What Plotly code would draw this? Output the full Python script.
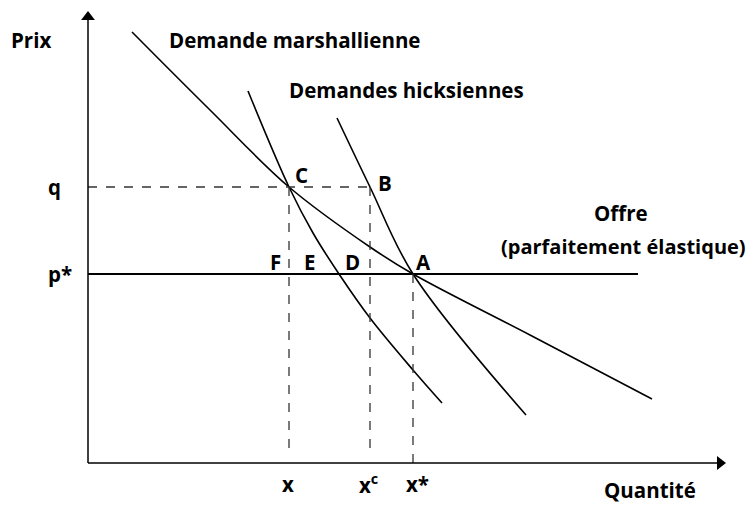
import plotly.graph_objects as go

# Data (quantity, price) in chart units
marsh_q = [44, 122, 201, 282, 325, 442, 564]
marsh_p = [431, 353, 276, 216, 189, 128, 64]
hicks1_q = [160, 201, 225, 251, 282, 325, 354]
hicks1_p = [372, 276, 230, 189, 145, 93, 60]
hicks2_q = [249, 282, 325, 438]
hicks2_p = [345, 276, 189, 48]

p_star = 189
q_price = 276
x_m = 201
x_c = 282
x_star = 325
supply_end = 550
x_axis_end = 632
y_axis_end = 446

FONT = "Open Sans"
BLK = "#000000"
DASH = "#333333"

fig = go.Figure()

def line(xs, ys, dash=None, width=1.6, color=BLK):
    fig.add_trace(go.Scatter(x=xs, y=ys, mode="lines",
                             line=dict(color=color, width=width, dash=dash),
                             hoverinfo="skip", showlegend=False))

# demand curves
for qs, ps in [(marsh_q, marsh_p), (hicks1_q, hicks1_p), (hicks2_q, hicks2_p)]:
    fig.add_trace(go.Scatter(x=qs, y=ps, mode="lines",
                             line=dict(color=BLK, width=1.6, shape="spline", smoothing=1.0),
                             hoverinfo="skip", showlegend=False))

# supply
line([0, supply_end], [p_star, p_star], width=1.8)
# dashed guides
line([0, x_c], [q_price, q_price], dash="dash", width=1.3, color=DASH)
line([x_m, x_m], [q_price, 12], dash="dash", width=1.3, color=DASH)
line([x_c, x_c], [q_price, 6], dash="dash", width=1.3, color=DASH)
line([x_star, x_star], [p_star, 0], dash="dash", width=1.3, color=DASH)

# axes
line([0, 0], [0, y_axis_end], width=1.5)
line([0, x_axis_end], [0, 0], width=1.5)
# arrow heads
fig.add_trace(go.Scatter(x=[0], y=[y_axis_end], mode="markers",
                         marker=dict(symbol="triangle-up", size=12, color=BLK),
                         hoverinfo="skip", showlegend=False))
fig.add_trace(go.Scatter(x=[x_axis_end], y=[0], mode="markers",
                         marker=dict(symbol="triangle-right", size=12, color=BLK),
                         hoverinfo="skip", showlegend=False))

def label(text, x, y, xanchor="center", yanchor="middle", size=20.5):
    fig.add_annotation(x=x, y=y, xref="x", yref="y", text="<b>" + text + "</b>",
                       showarrow=False, xanchor=xanchor, yanchor=yanchor,
                       font=dict(family=FONT, size=size, color=BLK))

label("Prix", -57, 423)
label("Demande marshallienne", 79, 423, xanchor="left")
label("Demandes hicksiennes", 199, 373, xanchor="left")
label("q", -34, 276)
label("p*", -28, 189)
label("C", 213, 288)
label("B", 297, 280)
label("F", 187, 201)
label("E", 221, 201)
label("D", 264, 201)
label("A", 335, 201)
label("Offre", 533, 250)
label("(parfaitement élastique)", 660, 217, xanchor="right", size=20)
label("x", 200, -21)
label("x<sup>c</sup>", 280, -21)
label("x*", 329, -21)
label("Quantité", 562, -43, yanchor="bottom")

fig.update_layout(
    width=749, height=506,
    margin=dict(l=0, r=0, t=0, b=0),
    paper_bgcolor="white", plot_bgcolor="white",
    xaxis=dict(range=[-88, 661], visible=False, fixedrange=True),
    yaxis=dict(range=[-43, 463], visible=False, fixedrange=True),
)

fig.write_html("out.html", config={"displayModeBar": False},
               post_script="document.body.style.margin='0';document.body.style.overflow='hidden';")
